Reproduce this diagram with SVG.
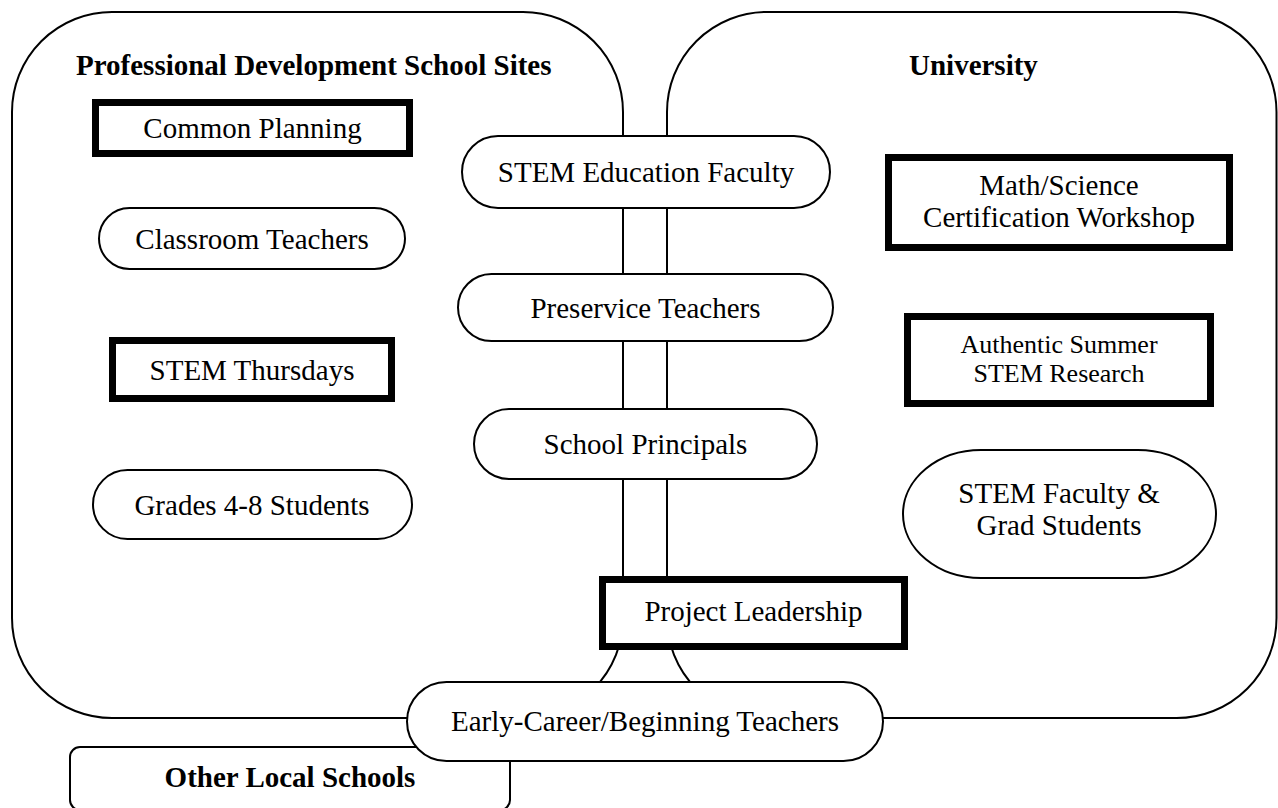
<svg xmlns="http://www.w3.org/2000/svg" width="1278" height="808" viewBox="0 0 1278 808">
<style>
  .region { fill: none; stroke: #000; stroke-width: 2; }
  .oval { fill: #fff; stroke: #000; stroke-width: 2; }
  .box { fill: #fff; stroke: #000; stroke-width: 7; }
  .t { font-family: "Liberation Serif", "Times New Roman", serif; font-size: 29px; fill: #000; text-anchor: middle; }
  .h { font-family: "Liberation Serif", "Times New Roman", serif; font-size: 29px; font-weight: bold; fill: #000; }
</style>
<rect width="1278" height="808" fill="#fff"/>

<g id="pds-sites">
  <rect class="region" x="12" y="12" width="611" height="706" rx="100" ry="100"/>
  <text class="h" x="76" y="75">Professional Development School Sites</text>
</g>
<g id="university">
  <rect class="region" x="667" y="12" width="609.5" height="706" rx="100" ry="100"/>
  <text class="h" x="909" y="75">University</text>
</g>

<g id="connectors"></g>

<g id="other-local-schools">
  <rect class="oval" x="70" y="747" width="440" height="63" rx="10" ry="10"/>
  <text class="h" x="290" y="787" text-anchor="middle">Other Local Schools</text>
</g>

<g id="common-planning">
  <rect class="box" x="95.5" y="102.5" width="314" height="51"/>
  <text class="t" x="252.5" y="138">Common Planning</text>
</g>
<g id="classroom-teachers">
  <rect class="oval" x="99" y="208" width="306" height="61" rx="30.5" ry="30.5"/>
  <text class="t" x="252" y="249">Classroom Teachers</text>
</g>
<g id="stem-thursdays">
  <rect class="box" x="112.5" y="340.5" width="279" height="58"/>
  <text class="t" x="252" y="380">STEM Thursdays</text>
</g>
<g id="grades-students">
  <rect class="oval" x="93" y="470" width="319" height="69" rx="34.5" ry="34.5"/>
  <text class="t" x="252" y="515">Grades 4-8 Students</text>
</g>

<g id="stem-education-faculty">
  <rect class="oval" x="462" y="136" width="368" height="72" rx="36" ry="36"/>
  <text class="t" x="646" y="182">STEM Education Faculty</text>
</g>
<g id="preservice-teachers">
  <rect class="oval" x="458" y="274" width="375" height="67" rx="33.5" ry="33.5"/>
  <text class="t" x="645.5" y="318">Preservice Teachers</text>
</g>
<g id="school-principals">
  <rect class="oval" x="474" y="409" width="343" height="70" rx="35" ry="35"/>
  <text class="t" x="645.5" y="454">School Principals</text>
</g>
<g id="project-leadership">
  <rect class="box" x="602.5" y="579.5" width="302" height="67"/>
  <text class="t" x="753.5" y="621">Project Leadership</text>
</g>
<g id="early-career-teachers">
  <rect class="oval" x="407" y="682" width="476" height="79" rx="39.5" ry="39.5"/>
  <text class="t" x="645" y="731">Early-Career/Beginning Teachers</text>
</g>

<g id="math-science-workshop">
  <rect class="box" x="888.5" y="157.5" width="341" height="90"/>
  <text class="t" x="1059" y="195">Math/Science</text>
  <text class="t" x="1059" y="227">Certification Workshop</text>
</g>
<g id="authentic-summer-research">
  <rect class="box" x="907.5" y="316.5" width="303" height="87"/>
  <text class="t" x="1059" y="353" style="font-size:26px">Authentic Summer</text>
  <text class="t" x="1059" y="382" style="font-size:26px">STEM Research</text>
</g>
<g id="stem-faculty-grad">
  <rect class="oval" x="903" y="450" width="313" height="128" rx="78" ry="64"/>
  <text class="t" x="1059" y="503">STEM Faculty &amp;</text>
  <text class="t" x="1059" y="535">Grad Students</text>
</g>
</svg>
